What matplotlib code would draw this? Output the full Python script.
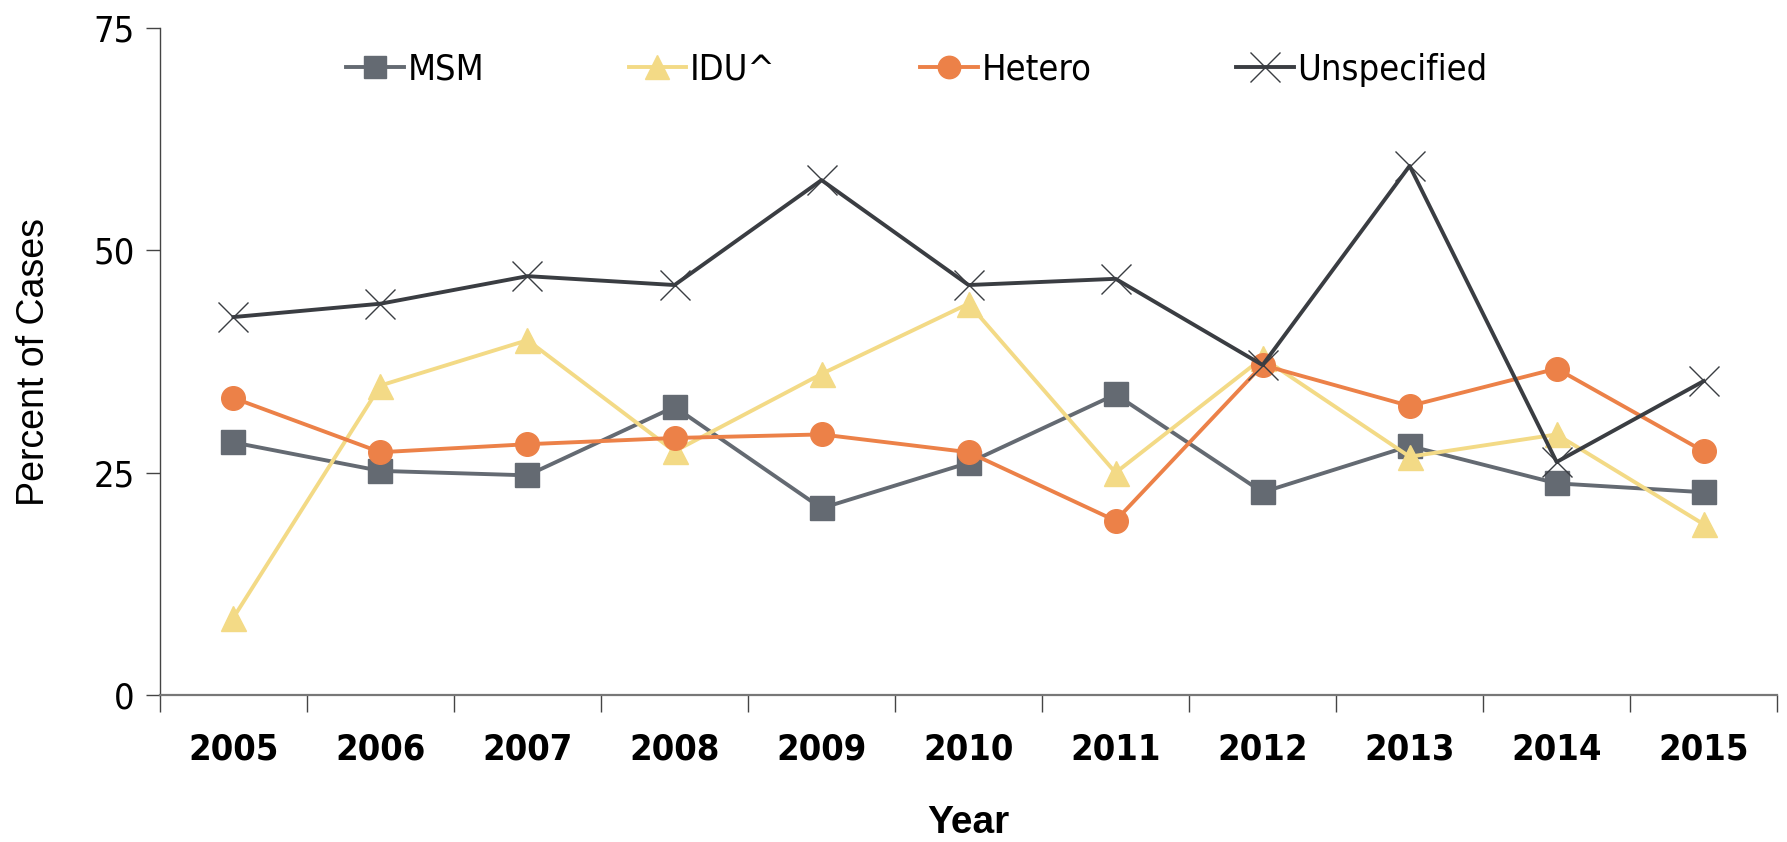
import matplotlib
matplotlib.use("Agg")
import matplotlib.pyplot as plt
import numpy as np

# Share of cases by exposure category, per year
years = ["2005", "2006", "2007", "2008", "2009", "2010", "2011", "2012", "2013", "2014", "2015"]
msm = [28.4, 25.2, 24.7, 32.4, 21.0, 26.1, 33.8, 22.8, 28.0, 23.8, 22.8]
idu = [8.7, 34.8, 39.9, 27.4, 36.1, 44.0, 25.0, 37.9, 26.8, 29.3, 19.2]
hetero = [33.4, 27.3, 28.2, 28.9, 29.3, 27.3, 19.6, 37.1, 32.5, 36.7, 27.4]
unspecified = [42.5, 44.0, 47.1, 46.1, 57.9, 46.1, 46.8, 37.1, 59.5, 26.2, 35.3]
yticks = [0, 25, 50, 75]

narrow = ["DejaVu Sans"]
regular = ["Liberation Sans", "DejaVu Sans"]

fig = plt.figure(figsize=(17.87, 8.42), dpi=100)
ax = fig.add_axes([0.0895, 0.1746, 0.905, 0.7921])

x = np.arange(len(years))
ax.plot(x, msm, color="#646a72", lw=2.8, marker="s", ms=17, label="MSM")
ax.plot(x, idu, color="#f3da86", lw=2.8, marker="^", ms=18, label="IDU^")
ax.plot(x, hetero, color="#ec8148", lw=2.8, marker="o", ms=17, label="Hetero")
ax.plot(x, unspecified, color="#3a3d42", lw=2.8, marker="x", ms=22, mew=1.0,
        mec="#3a3d42", label="Unspecified")

ax.set_xlim(-0.5, len(years) - 0.5)
ax.set_ylim(0, 75)
ax.set_yticks(yticks)
ax.set_yticklabels([str(v) for v in yticks], family=narrow, fontsize=26,
                   stretch="condensed", fontweight="light")
ax.set_xticks(x)
ax.set_xticklabels(years, family=narrow, fontsize=26, fontweight="bold", stretch="condensed")
ax.tick_params(axis="x", length=0, pad=27)
ax.set_xticks(np.arange(len(years) + 1) - 0.5, minor=True)
ax.tick_params(axis="x", which="minor", length=12, width=1.0, color="#444444")
ax.tick_params(axis="y", length=10, width=1.0, color="#444444", pad=8)

for side in ["top", "right"]:
    ax.spines[side].set_visible(False)
ax.spines["left"].set_color("#444444")
ax.spines["left"].set_linewidth(1.0)
ax.spines["bottom"].set_color("#777777")
ax.spines["bottom"].set_linewidth(1.6)

ax.set_ylabel("Percent of Cases", family=regular, fontsize=27, labelpad=30)
ax.set_xlabel("Year", family=regular, fontsize=28, fontweight="bold", labelpad=28)

ax.legend(loc="upper center", bbox_to_anchor=(0.468, 1.012), ncol=4,
          frameon=False, prop={"family": narrow, "size": 26, "stretch": "condensed"},
          handlelength=1.6, handletextpad=0.1, columnspacing=4.0,
          markerscale=0.95)

fig.savefig("out.png", dpi=100, facecolor="white")
